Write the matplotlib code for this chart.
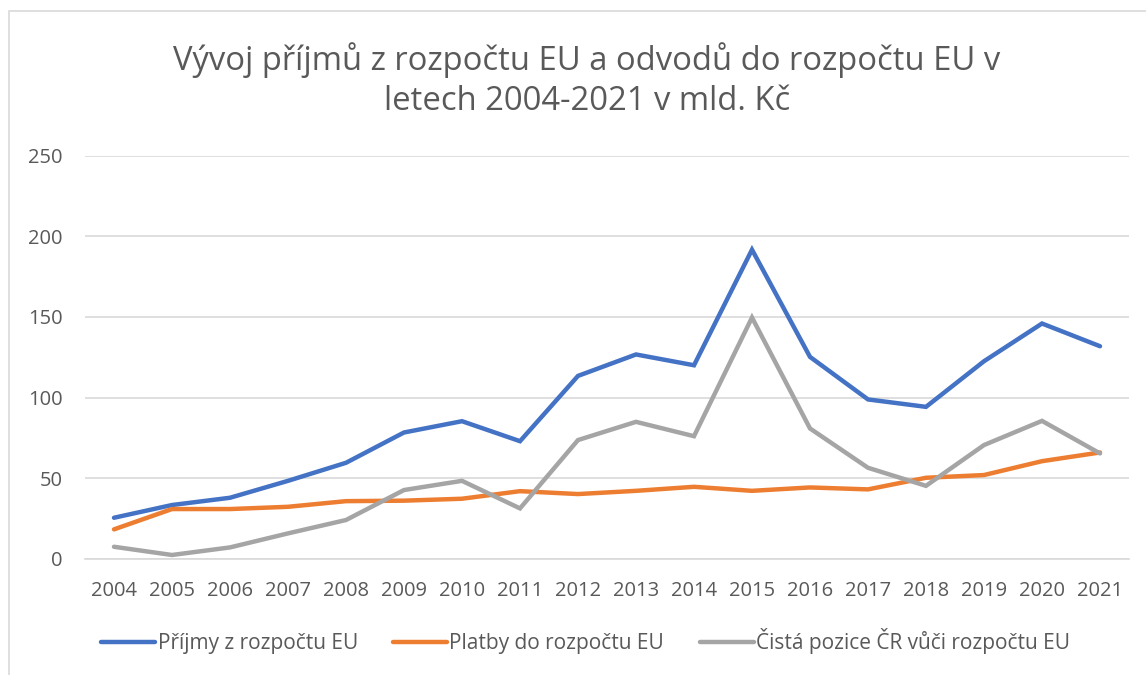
import matplotlib
matplotlib.use("Agg")
import matplotlib.pyplot as plt
from matplotlib.patches import Rectangle

years = [str(y) for y in range(2004, 2022)]
prijmy = [25.4, 33.3, 37.8, 48.3, 59.5, 78.3, 85.3, 72.9, 113.4, 126.7,
          120.0, 191.7, 125.2, 98.8, 94.2, 122.5, 145.9, 131.8]
platby = [18.2, 30.8, 30.8, 32.2, 35.7, 36.0, 37.2, 41.9, 40.1, 42.1,
          44.6, 42.1, 44.2, 43.0, 50.2, 51.9, 60.5, 65.9]
pozice = [7.4, 2.3, 7.0, 15.7, 24.0, 42.6, 48.3, 31.2, 73.6, 84.9,
          76.0, 149.6, 80.8, 56.4, 45.2, 70.5, 85.5, 65.3]
yticks = [0, 50, 100, 150, 200, 250]

labels = ["Příjmy z rozpočtu EU", "Platby do rozpočtu EU",
          "Čistá pozice ČR vůči rozpočtu EU"]
colors = ["#4472C4", "#ED7D31", "#A5A5A5"]

plt.rcParams['font.family'] = ['Open Sans', 'DejaVu Sans']
txt = "#595959"

W, H = 1146, 675
fig = plt.figure(figsize=(W / 100, H / 100), dpi=100)
ax = fig.add_axes([85 / W, 1 - 558.7 / H, (1129 - 85) / W, (558.7 - 155.7) / H])

x = list(range(len(years)))
for series, lab, c in zip([prijmy, platby, pozice], labels, colors):
    ax.plot(x, series, color=c, lw=3.2, label=lab, solid_capstyle="round",
            solid_joinstyle="miter")

ax.set_ylim(0, 250)
ax.set_xlim(-0.5, len(years) - 0.5)
ax.set_yticks(yticks)
ax.set_xticks(x)
ax.set_xticklabels(years)
ax.grid(axis="y", color="#D9D9D9", lw=1.2)
ax.set_axisbelow(True)
for s in ax.spines.values():
    s.set_visible(False)
ax.spines["bottom"].set_visible(True)
ax.spines["bottom"].set_color("#D9D9D9")
ax.spines["bottom"].set_linewidth(1.2)
ax.tick_params(length=0, labelsize=14.5, labelcolor=txt)
ax.tick_params(axis="x", pad=16)
ax.tick_params(axis="y", pad=16)

fig.text(0.512, 1 - 80 / H,
         "Vývoj příjmů z rozpočtu EU a odvodů do rozpočtu EU v\nletech 2004-2021 v mld. Kč",
         ha="center", va="center", fontsize=23.6, color=txt, linespacing=1.25)

fig.legend(loc="center", bbox_to_anchor=(0.511, 1 - 641 / H), ncol=3,
           frameon=False, fontsize=15, labelcolor=txt, handlelength=2.6,
           handletextpad=0.1, columnspacing=1.7)

fig.patches.append(Rectangle((9 / W, -0.05), 1.2, 1 - 11 / H + 0.05,
                             transform=fig.transFigure, fill=False,
                             edgecolor="#D9D9D9", lw=1.2))

fig.savefig("out.png", dpi=100)
